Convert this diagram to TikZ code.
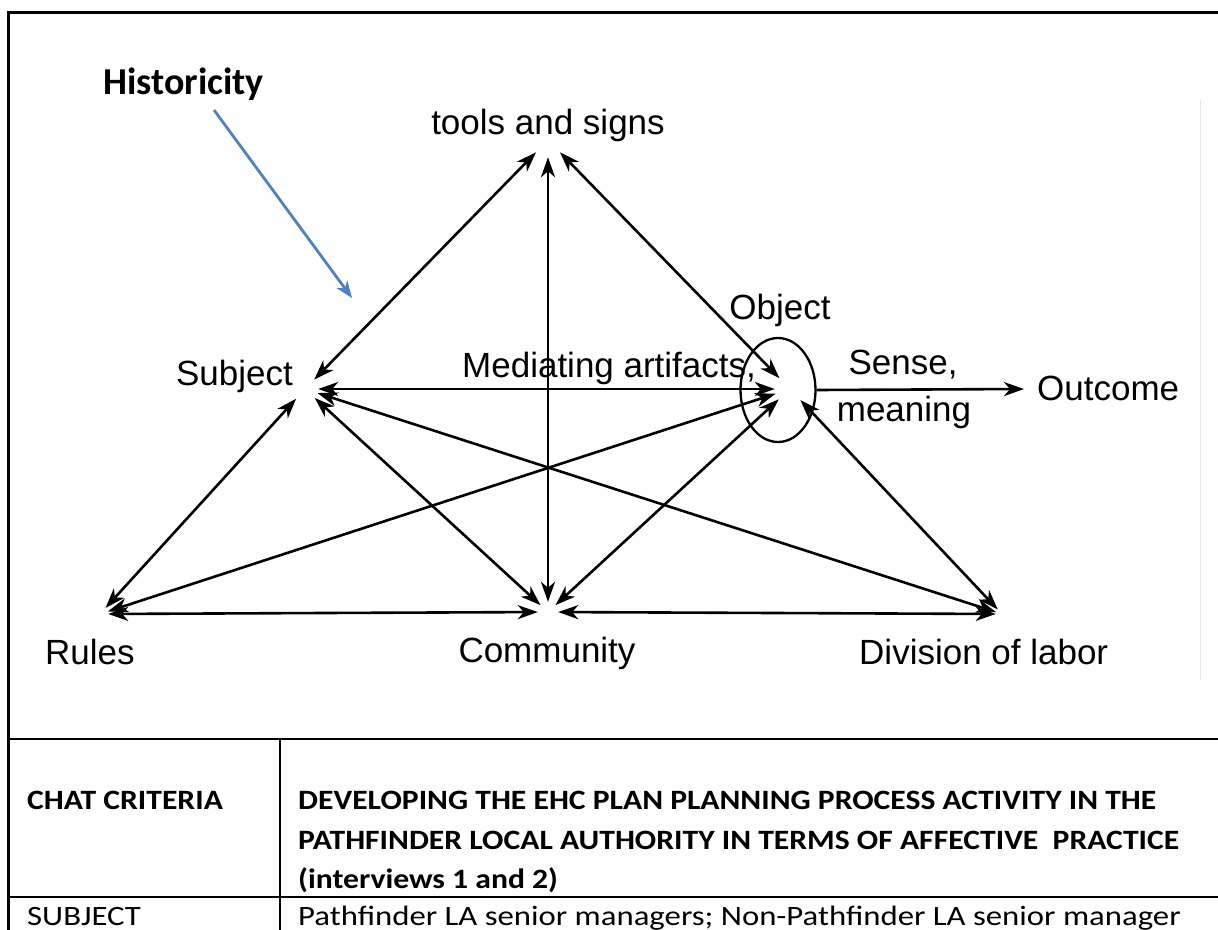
\documentclass[tikz,border=0pt]{standalone}
\usepackage{fontspec}
\setmainfont{Liberation Sans}
\newfontfamily\calibri{Carlito}
\newfontfamily\calibrib[FakeStretch=1.13]{Carlito}
\newfontfamily\calibrir[FakeStretch=1.17]{Carlito}
\usetikzlibrary{arrows.meta,shapes.geometric}
\definecolor{histblue}{HTML}{4F81BD}
\begin{document}
\begin{tikzpicture}[x=1pt,y=-1pt,
  lbl/.style={font=\fontsize{35}{40}\selectfont, inner sep=0pt},
  hist/.style={font=\calibri\bfseries\fontsize{38}{44}\selectfont, inner sep=0pt},
  th/.style={font=\calibrib\bfseries\fontsize{28}{34}\selectfont, inner sep=0pt, anchor=base west},
  td/.style={font=\calibrir\fontsize{28}{34}\selectfont, inner sep=0pt, anchor=base west},
  vtx/.style={circle, inner sep=0pt, minimum size=#1},
  link/.style={line width=2.6pt, {Stealth[length=20pt,width=14pt,inset=6pt]}-{Stealth[length=20pt,width=14pt,inset=6pt]}},
  oneway/.style={line width=2.6pt, -{Stealth[length=20pt,width=14pt,inset=6pt]}},
  rule/.style={line width=2.5pt, line cap=rect},
]
\useasboundingbox (0,0) rectangle (1218,929);

% frame and table grid
\draw[rule, line width=3pt] (8,929) -- (8,12) -- (1218,12);
\draw[rule] (8,739) -- (1218,739);
\draw[rule] (8,897) -- (1218,897);
\draw[rule] (280,739) -- (280,929);
\draw[black!10, line width=1pt] (1200,100) -- (1200,680);

% vertices of the activity system
\node[vtx=34pt] (T) at (548,140) {};
\node[vtx=26pt] (S) at (305,389) {};
\node[vtx=30pt] (O) at (790,389) {};
\node[vtx=16pt] (R) at (100,614) {};
\node[vtx=20pt] (C) at (548,612) {};
\node[vtx=12pt] (D) at (1002,614) {};
\node[draw, ellipse, line width=2.3pt, minimum width=75pt, minimum height=104pt, inner sep=0pt] (E) at (778,390) {};
\coordinate (Out) at (1024,389);

% connectors
\draw[link] (T) -- (S);
\draw[link] (T) -- (C);
\draw[link] (T) -- (O);
\draw[link] (S) -- (O);
\draw[link] (S) -- (R);
\draw[link] (S) -- (C);
\draw[link] (S) -- (D);
\draw[link] (O) -- (R);
\draw[link] (O) -- (C);
\draw[link] (O) -- (D);
\draw[link] (R) -- (C);
\draw[link] (C) -- (D);
\draw[oneway] (E.east) -- (Out);

% labels
\node[lbl, anchor=base] (tl) at (548,134) {tools and signs};
\node[lbl, anchor=base east] (sl) at (293,385) {Subject};
\node[lbl, anchor=base west] (ml) at (462,377) {Mediating artifacts,};
\node[lbl, anchor=base] (ol) at (780,319) {Object};
\node[lbl, anchor=base] (sn) at (903,374) {Sense,};
\node[lbl, anchor=base] (mn) at (904,421) {meaning};
\node[lbl, anchor=base west] (oc) at (1037,400) {Outcome};
\node[lbl, anchor=base west] (rl) at (45,664) {Rules};
\node[lbl, anchor=base] (cl) at (547,662) {Community};
\node[lbl, anchor=base west] (dl) at (859,664) {Division of labor};

% historicity
\node[hist, anchor=base west] (H) at (103,94) {Historicity};
\coordinate (Hstart) at (214,110);
\coordinate (Hend) at (352,298);
\draw[histblue, line width=2.8pt, -{Stealth[length=17pt,width=13pt,inset=5pt]}] (Hstart) -- (Hend);

% table text
\node[th] (c1) at (27,809) {CHAT CRITERIA};
\node[th] (h1) at (298,809) {DEVELOPING THE EHC PLAN PLANNING PROCESS ACTIVITY IN THE};
\node[th] (h2) at (298,849) {PATHFINDER LOCAL AUTHORITY IN TERMS OF AFFECTIVE\ \ PRACTICE};
\node[th] (h3) at (298,888) {(interviews 1 and 2)};
\node[td] (c2) at (27,925) {SUBJECT};
\node[td] (r2) at (298,925) {Pathfinder LA senior managers; Non-Pathfinder LA senior manager};
\end{tikzpicture}
\end{document}
